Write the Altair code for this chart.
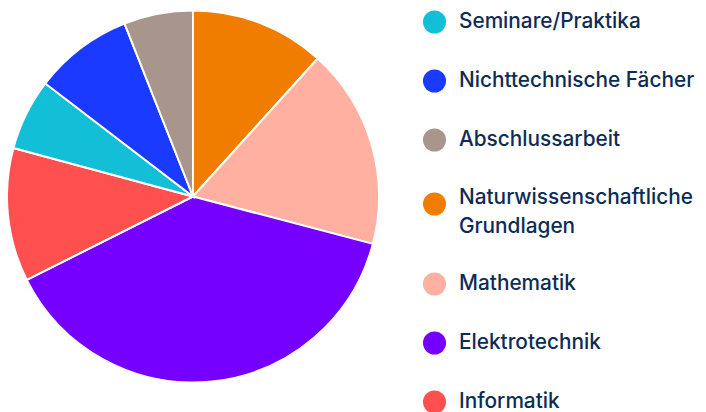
import altair as alt
import pandas as pd

# Slices in drawing order (clockwise from 12 o'clock)
categories = [
    "Naturwissenschaftliche Grundlagen",
    "Mathematik",
    "Elektrotechnik",
    "Informatik",
    "Seminare/Praktika",
    "Nichttechnische Fächer",
    "Abschlussarbeit",
]
shares = [11.7, 17.4, 38.5, 11.6, 6.2, 8.6, 6.0]

# Legend order and colours
legend_order = [
    "Seminare/Praktika",
    "Nichttechnische Fächer",
    "Abschlussarbeit",
    "Naturwissenschaftliche Grundlagen",
    "Mathematik",
    "Elektrotechnik",
    "Informatik",
]
legend_colors = ["#13bfd6", "#1a3bff", "#a8968c", "#f07d00", "#ffb0a0", "#7500ff", "#ff5050"]

df = pd.DataFrame({"Kategorie": categories, "Anteil": shares, "Reihenfolge": list(range(len(categories)))})

label_expr = (
    "datum.value == 'Naturwissenschaftliche Grundlagen' ? "
    "['Naturwissenschaftliche', 'Grundlagen'] : datum.label"
)
baseline_expr = "datum.value == 'Naturwissenschaftliche Grundlagen' ? 'alphabetic' : 'middle'"

chart = (
    alt.Chart(df)
    .mark_arc(radius=186, stroke="white", strokeWidth=2)
    .encode(
        theta=alt.Theta("Anteil:Q", stack=True),
        order=alt.Order("Reihenfolge:Q"),
        color=alt.Color(
            "Kategorie:N",
            scale=alt.Scale(domain=legend_order, range=legend_colors),
            legend=alt.Legend(
                title=None,
                orient="none",
                legendX=414.5,
                legendY=2,
                padding=0,
                symbolType="circle",
                symbolSize=531,
                symbolStrokeWidth=0,
                labelFont="Inter",
                labelFontSize=20.8,
                labelFontWeight=500,
                labelColor="#0d2c54",
                labelOffset=12.5,
                labelLimit=330,
                rowPadding=35,
                labelExpr=label_expr,
                labelBaseline={"expr": baseline_expr},
            ),
        ),
    )
    .properties(
        width=370,
        height=377,
        autosize=alt.AutoSizeParams(type="none"),
        padding={"left": 0, "top": 0, "right": 320, "bottom": 27},
    )
    .configure_view(stroke=None)
    .configure(style={"guide-label": {"lineHeight": 29}})
)

chart.save("out.html", embed_options={"renderer": "svg", "actions": False})
